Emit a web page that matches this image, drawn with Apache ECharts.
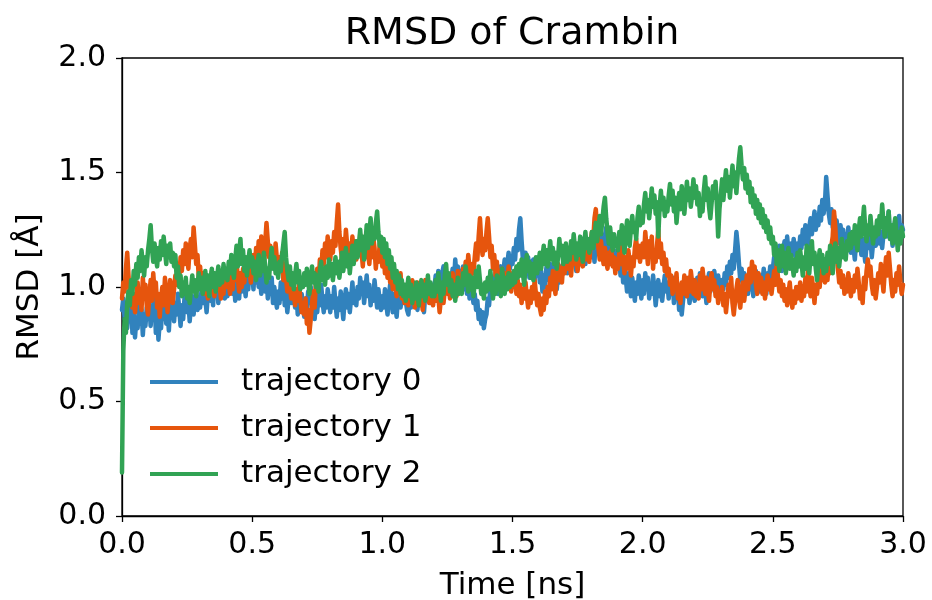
<!DOCTYPE html>
<html>
<head>
<meta charset="utf-8">
<script src="https://cdn.jsdelivr.net/npm/echarts@6/dist/echarts.min.js"></script>
<style>html,body{margin:0;padding:0;background:#fff;}#c{width:932px;height:600px;}</style>
</head>
<body>
<div id="c"></div>
<script>
var timeStep = 0.005; // ns, sampling interval of the trajectories
var seriesNames = ['trajectory 0', 'trajectory 1', 'trajectory 2'];
var xTicks = ['0.0','0.5','1.0','1.5','2.0','2.5','3.0'];
var yTicks = ['0.0','0.5','1.0','1.5','2.0'];

var traj0 = [
0.90,0.95,0.86,0.93,0.82,0.91,0.85,0.96,0.80,0.88,0.78,0.86,0.82,0.92,0.84,0.90,0.79,0.88,0.83,0.91,
0.86,0.94,0.83,0.91,0.87,0.96,0.80,0.89,0.77,0.85,0.82,0.93,0.86,0.95,0.84,0.90,0.81,0.92,0.87,0.94,
0.85,0.93,0.88,0.97,0.90,0.83,0.92,0.86,0.95,0.99,0.89,0.94,0.85,0.92,0.96,0.88,0.93,0.99,0.90,0.95,
0.91,0.98,0.93,1.01,0.95,0.89,0.97,1.03,0.94,0.99,0.92,1.05,0.97,1.01,0.93,0.98,1.06,0.96,1.02,0.95,
1.03,0.96,1.05,0.99,1.08,0.97,1.02,0.94,1.06,1.00,0.95,1.04,0.98,1.07,1.01,0.96,1.05,0.99,1.09,1.02,
1.06,0.99,1.08,1.02,1.11,1.00,1.05,0.97,1.09,1.03,0.98,1.06,0.95,1.02,0.97,1.04,0.93,1.00,0.95,0.91,
0.98,0.93,1.02,0.95,1.04,0.92,0.97,0.89,0.95,1.00,0.93,1.03,0.96,0.91,0.98,0.88,0.94,0.90,0.97,0.92,
0.87,0.95,0.90,0.98,0.93,1.00,0.91,0.96,0.86,0.94,0.89,0.97,0.92,1.01,0.94,0.89,0.96,0.91,0.99,0.95,
0.89,0.96,0.91,1.00,0.93,0.87,0.95,0.90,0.98,0.92,0.86,0.94,0.99,0.91,0.97,0.89,0.95,1.02,0.93,0.98,
0.92,1.00,0.95,1.04,0.97,1.02,0.93,0.99,1.05,0.96,1.01,0.92,0.98,0.94,1.03,0.97,0.91,0.99,0.94,0.90,
0.96,0.91,0.99,0.93,0.88,0.96,1.01,0.94,0.89,0.97,0.92,0.87,0.95,0.99,0.91,0.96,0.93,1.00,0.94,0.90,
0.88,0.95,0.91,0.99,1.02,0.93,0.97,0.90,0.96,0.92,0.99,0.94,0.89,0.97,1.02,0.95,0.99,0.93,1.01,0.96,
1.00,1.05,0.97,1.07,1.01,0.98,1.06,1.09,1.02,1.05,0.99,1.04,0.96,1.03,1.08,1.01,1.12,1.05,1.09,1.02,
1.07,1.01,1.09,0.99,1.05,0.97,1.02,0.95,1.04,0.98,0.93,0.97,0.90,0.94,0.86,0.90,0.84,0.89,0.82,0.86,
0.88,0.95,0.92,1.00,0.97,1.04,0.99,1.06,1.01,0.97,1.05,1.09,1.02,1.07,1.12,1.04,1.10,1.15,1.08,1.13,
1.10,1.17,1.12,1.21,1.16,1.25,1.30,1.20,1.12,1.08,1.15,1.09,1.13,1.04,1.11,1.06,1.12,1.03,1.09,1.05,
1.10,1.02,1.07,0.98,1.05,1.00,1.08,1.12,1.03,1.10,1.05,1.01,1.09,1.04,0.99,1.06,1.02,1.09,1.05,1.11,
1.08,1.14,1.06,1.13,1.09,1.16,1.11,1.19,1.12,1.07,1.15,1.10,1.17,1.13,1.21,1.14,1.10,1.18,1.12,1.16,
1.20,1.13,1.18,1.11,1.22,1.15,1.19,1.14,1.24,1.17,1.13,1.20,1.26,1.16,1.21,1.13,1.18,1.10,1.16,1.12,
1.15,1.08,1.13,1.05,1.11,1.02,1.09,1.04,0.98,1.06,1.01,0.96,1.04,0.99,0.94,1.02,0.97,1.05,1.00,0.95,
1.03,0.97,1.06,0.99,1.04,0.95,1.01,0.97,1.05,0.99,0.92,0.98,1.03,0.96,1.01,0.94,1.00,1.05,0.98,1.02,
0.95,1.02,0.97,1.04,0.93,0.99,0.95,1.01,0.90,0.96,0.88,0.94,0.99,1.03,0.96,1.00,0.93,0.98,1.02,0.97,
0.94,1.00,1.04,0.98,1.06,1.01,0.96,1.03,0.99,0.93,1.02,1.06,0.98,1.04,1.00,1.07,1.02,0.97,1.05,1.00,
0.96,1.03,0.99,1.06,1.01,1.09,1.04,1.11,1.06,1.14,1.08,1.16,1.24,1.18,1.10,1.03,1.08,1.00,1.06,0.99,
1.04,0.97,1.03,0.99,1.06,0.96,1.02,1.07,0.99,1.04,0.98,1.05,1.01,1.08,1.02,0.97,1.06,1.03,1.09,1.04,
1.08,1.13,1.06,1.15,1.10,1.18,1.12,1.07,1.16,1.20,1.13,1.22,1.15,1.11,1.19,1.14,1.21,1.17,1.12,1.19,
1.15,1.22,1.17,1.25,1.19,1.27,1.22,1.18,1.26,1.30,1.23,1.28,1.33,1.25,1.31,1.27,1.35,1.29,1.38,1.32,
1.36,1.48,1.40,1.32,1.28,1.34,1.26,1.31,1.22,1.29,1.24,1.19,1.27,1.21,1.25,1.17,1.23,1.19,1.26,1.20,
1.15,1.22,1.17,1.12,1.20,1.26,1.18,1.23,1.14,1.21,1.16,1.11,1.19,1.24,1.17,1.22,1.13,1.19,1.25,1.18,
1.21,1.27,1.19,1.24,1.17,1.23,1.30,1.22,1.27,1.33,1.21,1.26,1.18,1.24,1.29,1.20,1.26,1.31,1.23,1.27,
1.25];

var traj1 = [
0.95,1.02,0.98,1.08,1.15,1.05,0.96,1.00,0.91,0.97,0.89,0.95,1.02,0.93,0.99,0.90,1.04,0.96,1.01,0.92,
0.88,0.96,1.03,0.94,1.06,0.98,1.02,0.91,0.97,0.87,0.95,1.00,0.92,1.04,0.97,0.89,0.96,1.03,0.98,0.93,
0.99,1.05,1.01,1.10,1.04,1.13,1.07,1.16,1.10,1.19,1.12,1.08,1.17,1.21,1.13,1.26,1.18,1.10,1.14,1.04,
1.09,1.01,1.06,0.97,1.04,0.99,0.95,1.03,0.98,1.07,1.00,0.96,1.04,0.99,1.06,1.01,0.95,1.02,0.97,1.05,
1.00,1.07,1.02,0.97,1.05,0.99,1.09,1.03,1.11,1.04,0.98,1.06,1.00,1.08,1.02,1.10,1.05,1.13,1.07,1.02,
1.08,1.14,1.06,1.17,1.11,1.20,1.13,1.22,1.16,1.10,1.19,1.28,1.20,1.13,1.18,1.09,1.16,1.11,1.19,1.12,
1.06,1.13,1.08,1.15,1.03,1.10,1.04,0.98,1.06,1.00,0.95,1.02,0.97,0.92,0.99,0.94,1.01,0.95,0.89,0.93,
0.88,0.95,0.84,0.90,0.80,0.86,0.93,0.98,0.91,1.03,1.08,1.00,1.12,1.06,1.16,1.10,1.19,1.13,1.22,1.16,
1.12,1.20,1.15,1.24,1.18,1.28,1.36,1.24,1.17,1.12,1.21,1.15,1.25,1.18,1.11,1.19,1.13,1.22,1.15,1.20,
1.12,1.19,1.14,1.23,1.16,1.09,1.18,1.13,1.21,1.15,1.10,1.18,1.13,1.22,1.17,1.08,1.15,1.11,1.19,1.14,
1.09,1.15,1.06,1.12,1.04,1.10,1.02,1.08,0.99,1.05,1.01,0.96,1.04,0.98,1.06,0.95,1.01,0.93,0.99,0.96,
0.92,0.99,0.95,1.03,0.97,0.91,0.98,1.02,0.94,1.00,0.96,0.90,0.97,1.03,0.95,0.99,0.93,1.01,0.96,0.92,
0.98,0.94,1.01,0.96,0.89,0.95,1.00,0.93,0.99,1.05,0.97,1.02,0.95,0.99,1.06,0.98,1.03,0.96,1.07,1.01,
1.05,0.99,1.08,1.03,1.11,1.05,1.14,1.08,1.03,1.10,1.06,1.13,1.19,1.12,1.22,1.30,1.20,1.14,1.21,1.16,
1.24,1.30,1.22,1.13,1.18,1.08,1.14,1.05,1.11,1.02,1.07,1.00,1.08,1.03,0.98,1.06,1.01,1.09,1.03,0.98,
1.06,1.00,1.04,0.97,1.03,0.96,1.01,0.93,0.99,0.95,1.02,0.96,0.91,0.98,0.93,1.00,0.95,1.03,0.97,0.92,
0.97,0.91,0.88,0.95,0.90,0.98,0.93,1.00,0.96,1.04,0.99,1.07,1.01,0.97,1.05,1.10,1.03,1.08,1.02,1.11,
1.06,1.13,1.08,1.16,1.10,1.05,1.13,1.18,1.10,1.15,1.07,1.12,1.19,1.13,1.09,1.17,1.12,1.20,1.15,1.11,
1.18,1.24,1.20,1.30,1.34,1.25,1.17,1.12,1.20,1.14,1.10,1.17,1.11,1.08,1.15,1.10,1.16,1.09,1.13,1.06,
1.12,1.08,1.15,1.10,1.18,1.12,1.06,1.13,1.08,1.16,1.11,1.05,1.13,1.09,1.17,1.21,1.13,1.18,1.11,1.16,
1.19,1.13,1.24,1.17,1.10,1.20,1.14,1.22,1.08,1.16,1.11,1.18,1.25,1.13,1.19,1.10,1.15,1.07,1.12,1.05,
1.08,1.01,1.05,0.97,1.03,0.99,1.06,0.95,1.00,0.93,1.02,0.97,1.05,1.00,0.96,1.04,0.98,1.07,1.02,0.97,
1.03,0.96,1.01,0.95,1.05,0.99,1.08,1.02,0.97,1.04,0.98,0.94,1.02,1.06,0.99,1.03,0.96,1.00,0.93,0.98,
0.95,1.00,0.92,0.97,0.89,0.95,1.01,0.96,1.04,0.93,0.88,0.94,0.99,1.03,0.95,0.91,0.98,1.02,0.94,0.99,
1.05,0.99,1.08,1.02,1.11,1.04,1.09,1.01,0.97,1.06,1.00,1.04,0.97,1.02,0.95,1.00,1.05,0.99,1.03,0.97,
1.02,1.07,1.01,1.10,1.04,0.98,1.03,0.96,1.01,0.94,0.99,0.92,0.97,1.02,0.95,0.91,0.98,0.93,1.00,0.95,
0.97,1.02,0.94,1.00,0.96,1.04,0.98,1.07,1.01,0.96,1.04,0.99,0.93,1.01,0.97,1.05,1.00,1.08,1.03,1.10,
1.02,1.08,1.03,1.12,1.06,1.18,1.22,1.33,1.26,1.15,1.08,1.02,1.07,1.00,1.05,0.97,1.03,0.98,1.06,1.01,
0.96,1.03,0.98,1.05,1.00,1.08,1.02,0.95,1.00,0.93,1.04,0.99,1.07,1.12,1.05,1.09,1.01,0.97,1.03,0.95,
1.00,1.06,1.02,1.10,1.04,0.98,1.07,1.13,1.05,1.15,1.08,1.01,0.96,1.03,0.98,1.06,1.01,1.09,1.02,0.97,
1.01];

var traj2 = [
0.19,0.72,0.86,0.80,0.93,0.98,0.92,1.03,0.97,1.07,1.01,1.10,1.04,1.13,1.07,1.16,1.10,1.05,1.13,1.09,
1.16,1.21,1.27,1.17,1.11,1.19,1.13,1.09,1.17,1.12,1.20,1.14,1.22,1.16,1.10,1.18,1.13,1.19,1.11,1.15,
1.09,1.14,1.04,1.09,1.00,1.05,0.96,1.02,0.97,1.04,0.95,1.00,0.93,0.99,1.05,0.98,1.03,0.96,1.01,1.06,
0.99,1.04,0.97,1.02,1.07,0.99,1.05,0.96,1.03,1.08,1.00,1.06,0.98,1.04,1.09,1.01,1.07,1.02,1.10,1.04,
1.08,1.03,1.11,1.06,1.14,1.08,1.04,1.12,1.18,1.09,1.15,1.21,1.10,1.16,1.07,1.13,1.05,1.11,1.16,1.09,
1.13,1.06,1.11,1.03,1.09,1.14,1.05,1.12,1.07,1.15,1.09,1.02,1.08,1.04,1.12,1.17,1.08,1.13,1.06,1.10,
1.04,1.11,1.07,1.14,1.19,1.24,1.13,1.07,1.03,1.09,1.01,1.06,0.99,1.05,1.10,1.02,1.07,0.99,1.04,1.00,
1.06,1.01,1.08,1.03,0.97,1.04,1.09,1.02,1.06,1.00,1.05,0.98,1.07,1.11,1.03,1.08,1.01,1.09,1.04,1.12,
1.05,1.10,1.03,1.08,1.13,1.06,1.11,1.04,1.09,1.15,1.07,1.12,1.17,1.09,1.14,1.06,1.12,1.18,1.10,1.15,
1.20,1.13,1.18,1.25,1.16,1.22,1.12,1.19,1.27,1.17,1.23,1.30,1.19,1.25,1.21,1.28,1.33,1.24,1.18,1.22,
1.15,1.21,1.13,1.19,1.10,1.16,1.08,1.13,1.04,1.10,1.02,1.07,0.99,1.05,0.97,1.03,0.96,1.01,0.94,0.99,
1.04,0.96,1.01,0.93,0.99,0.95,1.02,0.97,0.92,0.99,1.03,0.96,1.01,0.94,0.98,1.05,0.97,1.02,0.96,1.00,
0.96,1.03,0.98,1.06,1.00,0.94,1.02,0.97,1.05,1.10,1.01,1.06,0.98,1.03,0.96,1.01,0.94,0.99,1.04,0.97,
1.02,0.97,1.06,1.01,1.09,1.03,0.98,1.05,0.99,1.04,0.96,1.02,1.07,1.00,1.09,1.03,0.97,1.01,0.95,1.02,
0.98,1.04,0.99,1.07,1.01,0.95,1.02,0.97,1.05,0.99,1.04,0.96,1.08,1.02,0.97,1.04,0.99,1.06,1.00,1.05,
1.01,1.07,1.02,1.09,1.04,1.10,1.05,1.12,1.06,1.01,1.09,1.14,1.07,1.11,1.04,1.10,1.03,1.08,1.13,1.06,
1.11,1.15,1.08,1.13,1.18,1.10,1.16,1.09,1.14,1.20,1.12,1.17,1.10,1.15,1.08,1.13,1.21,1.14,1.18,1.10,
1.14,1.19,1.11,1.17,1.12,1.20,1.15,1.23,1.17,1.12,1.19,1.14,1.22,1.16,1.11,1.18,1.24,1.17,1.21,1.15,
1.19,1.24,1.17,1.22,1.28,1.20,1.25,1.31,1.23,1.29,1.35,1.39,1.30,1.24,1.19,1.26,1.20,1.16,1.23,1.18,
1.21,1.16,1.24,1.19,1.27,1.21,1.15,1.23,1.29,1.22,1.18,1.26,1.31,1.24,1.28,1.21,1.30,1.35,1.27,1.32,
1.28,1.36,1.41,1.33,1.38,1.30,1.36,1.43,1.35,1.40,1.32,1.37,1.22,1.35,1.42,1.34,1.39,1.31,1.37,1.33,
1.40,1.45,1.36,1.42,1.33,1.39,1.28,1.35,1.41,1.34,1.44,1.37,1.32,1.39,1.46,1.38,1.43,1.35,1.40,1.47,
1.39,1.44,1.36,1.41,1.31,1.37,1.33,1.42,1.48,1.38,1.43,1.35,1.30,1.37,1.44,1.39,1.46,1.36,1.22,1.34,
1.40,1.47,1.38,1.45,1.51,1.42,1.48,1.39,1.46,1.53,1.44,1.50,1.41,1.49,1.56,1.61,1.53,1.47,1.52,1.43,
1.49,1.41,1.46,1.37,1.43,1.35,1.40,1.32,1.38,1.30,1.36,1.28,1.34,1.26,1.31,1.24,1.29,1.21,1.26,1.19,
1.22,1.14,1.19,1.10,1.16,1.07,1.13,1.18,1.09,1.15,1.06,1.12,1.17,1.08,1.14,1.10,1.05,1.12,1.07,1.15,
1.09,1.16,1.11,1.05,1.13,1.08,1.18,1.12,1.06,1.14,1.20,1.10,1.15,1.08,1.03,1.11,1.16,1.09,1.14,1.06,
1.12,1.07,1.15,1.10,1.18,1.13,1.06,1.14,1.19,1.11,1.17,1.09,1.15,1.21,1.13,1.18,1.12,1.20,1.16,1.23,
1.17,1.24,1.19,1.27,1.21,1.16,1.25,1.30,1.22,1.28,1.35,1.25,1.20,1.27,1.23,1.31,1.24,1.19,1.26,1.22,
1.29,1.23,1.31,1.26,1.36,1.28,1.22,1.30,1.25,1.33,1.21,1.27,1.19,1.25,1.30,1.23,1.16,1.24,1.19,1.26,
1.22];

var colors = ['#3182bd', '#e6550d', '#31a354'];
var FONT = 'DejaVu Sans';

function pairs(arr) {
  return arr.map(function (v, i) { return [+(i * timeStep).toFixed(4), v]; });
}

var chart = echarts.init(document.getElementById('c'), null, { renderer: 'canvas' });
var allSeries = [traj0, traj1, traj2].map(function (arr, k) {
  return {
    name: seriesNames[k],
    type: 'line',
    data: pairs(arr),
    showSymbol: false,
    symbol: 'none',
    sampling: false,
    lineStyle: { width: 4.5, color: colors[k], join: 'round', cap: 'round' },
    itemStyle: { color: colors[k] },
    z: 2 + k
  };
});

chart.setOption({
  animation: false,
  backgroundColor: '#fff',
  textStyle: { fontFamily: FONT },
  title: {
    text: 'RMSD of Crambin',
    left: 507, top: 10, textAlign: 'center',
    textStyle: { fontFamily: FONT, fontSize: 38, fontWeight: 'normal', color: '#000' }
  },
  legend: {
    orient: 'vertical',
    left: 145, top: 360,
    itemWidth: 68, itemHeight: 4,
    itemGap: 12,
    icon: 'rect',
    data: seriesNames,
    textStyle: { fontFamily: FONT, fontSize: 31, color: '#000', lineHeight: 34, padding: [0, 0, 0, 18] }
  },
  grid: {
    left: 122, right: 29, top: 58, bottom: 84,
    containLabel: false, outerBoundsMode: 'none',
    show: true, borderColor: '#000', borderWidth: 1.3, backgroundColor: 'transparent'
  },
  xAxis: {
    type: 'value', min: 0, max: 3, interval: 0.5,
    name: 'Time [ns]', nameLocation: 'middle', nameGap: 54,
    nameTextStyle: { fontFamily: FONT, fontSize: 31, color: '#000' },
    axisLine: { show: true, lineStyle: { color: '#000', width: 1.3 } },
    axisTick: { show: true, inside: false, length: 6, lineStyle: { color: '#000', width: 1.3 } },
    axisLabel: {
      fontFamily: FONT, fontSize: 30, color: '#000', margin: 14,
      formatter: function (v) { return xTicks[Math.round(v / 0.5)]; }
    },
    splitLine: { show: false }
  },
  yAxis: {
    type: 'value', min: 0, max: 2, interval: 0.5,
    name: 'RMSD [Å]', nameLocation: 'middle', nameGap: 77, nameRotate: 90,
    nameTextStyle: { fontFamily: FONT, fontSize: 31, color: '#000' },
    axisLine: { show: true, lineStyle: { color: '#000', width: 1.3 } },
    axisTick: { show: true, inside: false, length: 6, lineStyle: { color: '#000', width: 1.3 } },
    axisLabel: {
      fontFamily: FONT, fontSize: 30, color: '#000', margin: 16,
      formatter: function (v) { return yTicks[Math.round(v / 0.5)]; }
    },
    splitLine: { show: false }
  },
  series: allSeries
});
</script>
</body>
</html>
